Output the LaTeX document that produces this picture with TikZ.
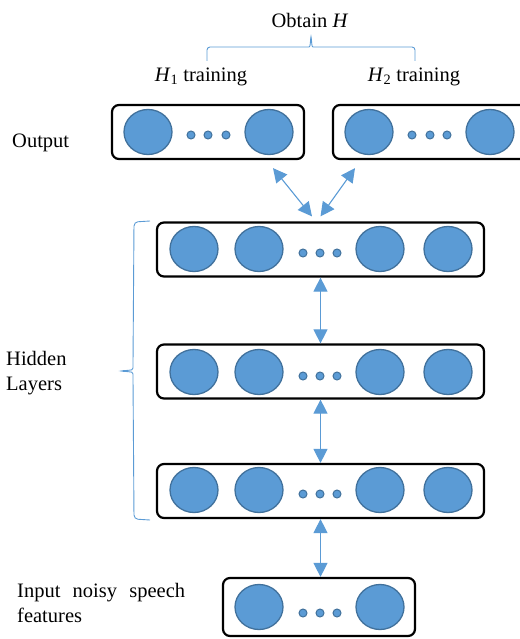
\documentclass[tikz,border=0pt]{standalone}
\usepackage{fontspec}
\setmainfont{Liberation Serif}
\usepackage{tikz}
\usetikzlibrary{positioning,arrows.meta,shapes.geometric}
\definecolor{unit}{HTML}{5B9BD5}
\definecolor{unitedge}{HTML}{41719C}

\begin{document}
\begin{tikzpicture}[x=1pt,y=-1pt,
    layerbox/.style={draw,line width=2.2pt,rounded corners=7pt,minimum height=54pt},
    neuron/.style={ellipse,draw=unitedge,line width=1.3pt,fill=unit,
                   minimum width=48pt,minimum height=45pt,inner sep=0pt},
    tinydot/.style={circle,draw=unitedge,line width=1pt,fill=unit,
                    minimum size=8pt,inner sep=0pt},
    link/.style={unit,line width=1.1pt,{Triangle[width=14pt,length=14pt]}-{Triangle[width=14pt,length=14pt]}},
    bracket/.style={unit,line width=0.9pt},
    lbl/.style={font=\fontsize{20.5}{25}\selectfont,inner sep=0pt}]
  \useasboundingbox (0,0) rectangle (519,639);

  % layers
  \node[layerbox,minimum width=192pt] (out1) at (208,132) {};
  \node[layerbox,minimum width=204pt] (out2) at (435,132) {};
  \node[layerbox,minimum width=327pt] (hid1) at (320.5,249.5) {};
  \node[layerbox,minimum width=327pt] (hid2) at (320.5,371.5) {};
  \node[layerbox,minimum width=327pt] (hid3) at (320.5,491) {};
  \node[layerbox,minimum width=192pt,minimum height=58pt] (inp) at (319,607) {};

  % units
  \node[neuron] (o1a) at (148,132) {};
  \node[neuron] (o1b) at (269,132) {};
  \node[neuron] (o2a) at (369,132) {};
  \node[neuron] (o2b) at (490,132) {};
  \foreach \x in {191,208,226} \node[tinydot] at (\x,135) {};
  \foreach \x in {412,430,447} \node[tinydot] at (\x,135) {};
  \foreach \lay/\y in {hid1/249,hid2/372,hid3/490} {
    \foreach \x [count=\i] in {194,259,380,448}
      \node[neuron] (\lay-\i) at (\x,\y) {};
    \foreach \x in {303,320,337} \node[tinydot] at (\x,\y+4) {};
  }
  \node[neuron] (in1) at (259,607) {};
  \node[neuron] (in2) at (380,607) {};
  \foreach \x in {303,320,337} \node[tinydot] at (\x,613) {};

  % connections
  \draw[link] ([xshift=65pt,yshift=-8pt]out1.south) -- ([xshift=-8.5pt,yshift=5pt]hid1.north);
  \draw[link] ([xshift=-80pt,yshift=-8pt]out2.south) -- ([xshift=0pt,yshift=5pt]hid1.north);
  \draw[link] (hid1.south) -- (hid2.north);
  \draw[link] (hid2.south) -- (hid3.north);
  \draw[link] (hid3.south) -- (hid3.south |- inp.north);

  % labels
  \node[lbl] (obtain) at (310,20) {Obtain \textit{H}};
  \node[lbl] (h1) at (201,77) {\textit{H}\textsubscript{1} training};
  \node[lbl] (h2) at (414,77) {\textit{H}\textsubscript{2} training};
  \node[lbl,anchor=west] (outlbl) at (12,143) {Output};
  \node[lbl,anchor=west,align=left] (hidlbl) at (6,373) {Hidden\\Layers};
  \node[lbl,anchor=west,text width=168pt,align=justify] (inlbl) at (17,603)
    {Input noisy speech features};

  % braces
  \draw[bracket,rounded corners=3pt] (207,61) -- (207,47) -- (306,47)
    .. controls (310,47) .. (311,35) .. controls (312,47) .. (316,47) -- (415,47) -- (415,61);
  \draw[bracket,rounded corners=4pt] (150,221) -- (134,222) -- (133,364)
    .. controls (133,370) .. (119,371) .. controls (133,372) .. (133,378) -- (134,519) -- (150,520);
\end{tikzpicture}
\end{document}
